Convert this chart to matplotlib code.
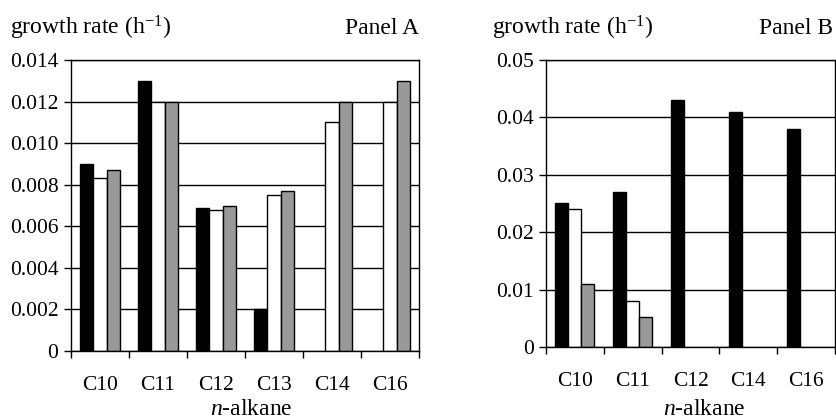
import matplotlib
matplotlib.use("Agg")
import matplotlib.pyplot as plt
import numpy as np

# ---------- data ----------
alkanes_a = ['C10', 'C11', 'C12', 'C13', 'C14', 'C16']
black_a = [0.0090, 0.0130, 0.0069, 0.0020, 0.0, 0.0]
white_a = [0.0083, 0.0120, 0.0068, 0.0075, 0.0110, 0.0120]
gray_a = [0.0087, 0.0120, 0.0070, 0.0077, 0.0120, 0.0130]
yticks_a = [0, 0.002, 0.004, 0.006, 0.008, 0.010, 0.012, 0.014]
ylabels_a = ['0', '0.002', '0.004', '0.006', '0.008', '0.010', '0.012', '0.014']

alkanes_b = ['C10', 'C11', 'C12', 'C14', 'C16']
black_b = [0.025, 0.027, 0.043, 0.041, 0.038]
white_b = [0.024, 0.008, 0.0, 0.0, 0.0]
gray_b = [0.011, 0.0052, 0.0, 0.0, 0.0]
yticks_b = [0, 0.01, 0.02, 0.03, 0.04, 0.05]
ylabels_b = ['0', '0.01', '0.02', '0.03', '0.04', '0.05']

# ---------- style ----------
plt.rcParams['font.family'] = ['Liberation Serif', 'DejaVu Serif']
plt.rcParams['mathtext.fontset'] = 'custom'
plt.rcParams['mathtext.rm'] = 'Liberation Serif'
plt.rcParams['mathtext.it'] = 'Liberation Serif:italic'
FS = 15.5     # tick labels
FT = 17       # titles and axis label

fig = plt.figure(figsize=(8.36, 4.19), dpi=100)


def draw_panel(rect, cats, blk, wht, gry, yt, yl, panel, title_x, panel_x, xlab_x):
    ax = fig.add_axes(rect)
    n = len(cats)
    x = np.arange(n)
    w = 0.225
    # Grid lines behind bars
    for v in yt:
        ax.axhline(v, color='black', linewidth=1.0, zorder=0)
    for vals, off, col in ((blk, -w, 'black'), (wht, 0, 'white'), (gry, w, '#999999')):
        for xi, v in zip(x, vals):
            if v > 0:
                ax.bar(xi + off, v, width=w, color=col, edgecolor='black',
                       linewidth=1.0, zorder=2)
    ax.set_xlim(-0.5, n - 0.5)
    ax.set_ylim(0, yt[-1])
    ax.set_yticks(yt)
    ax.set_yticklabels(yl, fontsize=FS)
    ax.set_xticks(np.arange(n + 1) - 0.5)
    ax.set_xticklabels([])
    ax.set_xticks(x, minor=True)
    ax.set_xticklabels(cats, minor=True, fontsize=FS)
    ax.tick_params(axis='x', which='minor', length=0, pad=18)
    ax.tick_params(axis='x', which='major', length=5, width=1.0, direction='out')
    ax.tick_params(axis='y', length=5, width=1.0, direction='out', pad=4)
    for s in ax.spines.values():
        s.set_linewidth(1.0)
        s.set_color('black')
    fig.text(title_x, 1 - 28 / 419, r'growth rate (h$^{-1}$)', fontsize=FT,
             ha='left', va='center')
    fig.text(panel_x, 1 - 28 / 419, panel, fontsize=FT, ha='right', va='center')
    fig.text(xlab_x, 1 - 409 / 419, r'$\it{n}$-alkane', fontsize=FT,
             ha='center', va='center')
    return ax


draw_panel([71 / 836, 1 - 351 / 419, (419 - 71) / 836, (351 - 60) / 419],
           alkanes_a, black_a, white_a, gray_a, yticks_a, ylabels_a,
           'Panel A', 10 / 836, 419 / 836, 251 / 836)
draw_panel([546 / 836, 1 - 347 / 419, (835 - 546) / 836, (347 - 60) / 419],
           alkanes_b, black_b, white_b, gray_b, yticks_b, ylabels_b,
           'Panel B', 492 / 836, 833 / 836, 704 / 836)

fig.savefig('out.png', dpi=100)
plt.close()
